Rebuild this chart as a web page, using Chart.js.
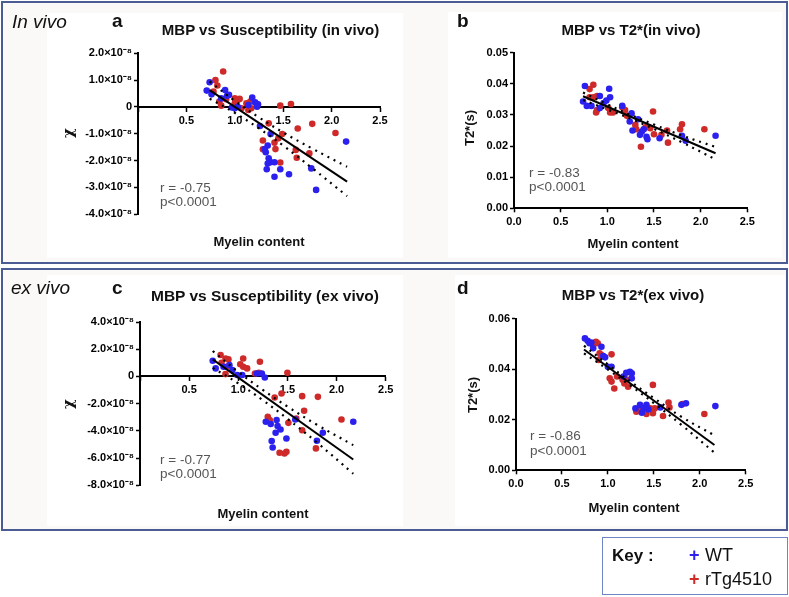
<!DOCTYPE html>
<html>
<head>
<meta charset="utf-8">
<script src="https://cdn.jsdelivr.net/npm/chart.js@4.4.1/dist/chart.umd.min.js"></script>
<style>
html, body { margin: 0; padding: 0; background: #fff; }
#fig { position: relative; width: 789px; height: 597px; overflow: hidden; font-family: "Liberation Sans", Arial, sans-serif; }
#fig canvas { position: absolute; left: 0; top: 0; }
.frame { position: absolute; box-sizing: border-box; border: 2px solid #4a5c93; background: #faf9f7; }
.sheet { position: absolute; background: #fff; }
.txt { position: absolute; white-space: nowrap; line-height: 1; color: #111; }
</style>
</head>
<body>
<div id="fig">
  <div class="frame" style="left:1px;top:1px;width:787px;height:263px"></div>
  <div class="frame" style="left:1px;top:268px;width:787px;height:263px"></div>
  <div class="sheet" style="left:47px;top:13px;width:356px;height:245px"></div>
  <div class="sheet" style="left:448px;top:12px;width:334px;height:246px"></div>
  <div class="sheet" style="left:47px;top:275px;width:356px;height:251px"></div>
  <div class="sheet" style="left:455px;top:275px;width:330px;height:251px"></div>
  <div class="frame" style="left:602px;top:537px;width:186px;height:58px;border:1.5px solid #6f84c2;background:#fff"></div>
</div>
<script>
// ---- data (susceptibility values in units of 1e-8) ----
// a: MBP vs susceptibility, in vivo
const aWtX = [0.74, 0.71, 0.76, 0.90, 0.92, 0.94, 0.86, 0.97, 1.00, 1.03, 1.18, 1.21, 1.24, 1.23, 1.14, 1.26, 1.37, 1.34, 1.32, 1.35, 1.37, 1.34, 1.33, 1.41, 1.47, 1.41, 1.56, 1.79, 1.84, 2.15, 1.31];
const aWtY = [0.92, 0.61, 0.47, 0.63, 0.42, 0.45, 0.32, -0.02, -0.05, 0.01, 0.35, 0.17, 0.10, 0.01, 0.07, -0.71, -1.01, -1.44, -1.69, -1.91, -2.06, -2.11, -2.32, -2.06, -2.32, -2.60, -2.51, -2.29, -3.09, -1.29, -1.57];
const aTgX = [0.88, 0.80, 0.82, 0.78, 0.84, 0.86, 0.91, 1.00, 1.03, 1.05, 1.00, 1.12, 1.16, 1.17, 1.14, 1.07, 1.47, 1.58, 1.35, 1.65, 1.80, 2.04, 1.49, 1.45, 1.41, 1.42, 1.29, 1.29, 1.47, 1.63, 1.64, 1.77];
const aTgY = [1.32, 1.00, 0.80, 0.57, 0.20, 0.05, 0.29, 0.32, 0.26, 0.30, 0.14, 0.14, 0.20, -0.05, -0.11, -0.05, 0.05, 0.11, -0.61, -0.80, -0.63, -0.97, -1.01, -1.17, -1.33, -1.57, -1.25, -1.58, -2.07, -1.60, -1.89, -1.73];
const aFitX = [0.74, 2.16];
const aFitY = [0.63, -2.78];
const aBandX = [0.74, 1.0, 1.25, 1.5, 1.8, 2.16];
const aUpper = [0.95, 0.23, -0.39, -0.95, -1.55, -2.23];
const aLower = [0.31, -0.22, -0.80, -1.44, -2.28, -3.32];

// b: MBP vs T2*, in vivo
const bWtX = [0.76, 0.74, 0.78, 0.83, 0.92, 1.02, 1.03, 0.99, 0.96, 0.92, 1.16, 1.26, 1.24, 1.33, 1.27, 1.37, 1.35, 1.42, 1.43, 1.39, 1.56, 1.80, 1.84, 2.16];
const bWtY = [0.0393, 0.0343, 0.0329, 0.0329, 0.0361, 0.0384, 0.0357, 0.0346, 0.0338, 0.0322, 0.0329, 0.0305, 0.0279, 0.0286, 0.0250, 0.0247, 0.0236, 0.0230, 0.0222, 0.0254, 0.0225, 0.0233, 0.0217, 0.0233];
const bTgX = [0.85, 0.81, 0.89, 0.85, 0.81, 0.88, 0.89, 1.03, 1.06, 1.01, 1.16, 1.19, 1.21, 1.49, 1.30, 1.31, 1.41, 1.46, 1.50, 1.36, 1.58, 1.65, 1.64, 1.78, 1.80, 2.04];
const bTgY = [0.0397, 0.0383, 0.0361, 0.0357, 0.0357, 0.0308, 0.0316, 0.0308, 0.0308, 0.0322, 0.0325, 0.0316, 0.0297, 0.0311, 0.0268, 0.0254, 0.0260, 0.0257, 0.0238, 0.0198, 0.0236, 0.0211, 0.0250, 0.0254, 0.0270, 0.0254];
const bFitX = [0.74, 2.16];
const bFitY = [0.0360, 0.0177];
const bBandX = [0.74, 1.0, 1.25, 1.5, 1.8, 2.16];
const bUpper = [0.0372, 0.0334, 0.0300, 0.0269, 0.0234, 0.0197];
const bLower = [0.0348, 0.0318, 0.0288, 0.0255, 0.0212, 0.0157];

// c: MBP vs susceptibility, ex vivo
const cWtX = [0.74, 0.77, 0.85, 0.91, 0.94, 0.99, 1.04, 1.19, 1.24, 1.27, 1.28, 1.33, 1.39, 1.40, 1.38, 1.43, 1.34, 1.35, 1.49, 1.58, 1.86, 1.80, 2.17];
const cWtY = [1.15, 0.59, 0.71, 0.83, 0.46, 0.10, 0.10, 0.22, 0.22, -0.08, -3.33, -3.50, -3.20, -3.65, -4.14, -3.90, -4.75, -5.22, -4.56, -3.16, -4.14, -4.73, -3.33];
const cTgX = [0.82, 0.87, 0.90, 0.83, 0.88, 0.87, 1.02, 1.05, 1.09, 1.05, 1.22, 1.17, 1.21, 1.50, 1.44, 1.37, 1.65, 1.81, 1.67, 1.30, 1.32, 1.51, 1.59, 1.65, 2.05, 1.79, 1.42, 1.47, 1.49];
const cTgY = [1.57, 1.32, 1.25, 1.00, 0.71, 0.17, 0.90, 0.71, 0.59, 1.32, 1.08, 0.22, 0.27, 0.27, -1.25, -1.55, -1.45, -1.50, -2.52, -2.96, -3.20, -3.41, -3.09, -3.95, -3.16, -5.29, -5.61, -5.66, -5.54];
const cFitX = [0.74, 2.17];
const cFitY = [1.25, -6.10];
const cBandX = [0.74, 1.0, 1.25, 1.5, 1.8, 2.17];
const cUpper = [1.87, 0.33, -0.99, -2.21, -3.55, -5.05];
const cLower = [0.63, -0.51, -1.75, -3.11, -4.85, -7.15];

// d: MBP vs T2*, ex vivo
const dWtX = [0.75, 0.78, 0.80, 0.82, 0.84, 0.93, 0.95, 0.97, 1.00, 1.04, 1.20, 1.24, 1.26, 1.26, 1.17, 1.30, 1.35, 1.39, 1.42, 1.37, 1.44, 1.57, 1.80, 1.85, 2.17];
const dWtY = [0.0522, 0.0513, 0.0503, 0.0506, 0.0483, 0.0489, 0.0452, 0.0447, 0.0410, 0.0410, 0.0386, 0.0390, 0.0384, 0.0364, 0.0371, 0.0245, 0.0259, 0.0245, 0.0259, 0.0228, 0.0241, 0.0249, 0.0259, 0.0265, 0.0254];
const dTgX = [0.87, 0.89, 0.84, 0.91, 0.93, 1.04, 0.90, 1.02, 1.04, 1.07, 1.10, 1.16, 1.20, 1.18, 1.22, 1.49, 1.31, 1.34, 1.37, 1.42, 1.49, 1.51, 1.60, 1.66, 1.67, 1.81, 2.05, 1.46];
const dTgY = [0.0509, 0.0503, 0.0496, 0.0463, 0.0456, 0.0459, 0.0437, 0.0364, 0.0351, 0.0324, 0.0371, 0.0358, 0.0360, 0.0344, 0.0331, 0.0338, 0.0232, 0.0245, 0.0241, 0.0223, 0.0226, 0.0245, 0.0215, 0.0268, 0.0249, 0.0262, 0.0223, 0.0245];
const dFitX = [0.74, 2.16];
const dFitY = [0.0478, 0.0100];
const dBandX = [0.74, 1.0, 1.25, 1.5, 1.8, 2.16];
const dUpper = [0.0493, 0.0419, 0.0350, 0.0286, 0.0212, 0.0138];
const dLower = [0.0463, 0.0399, 0.0334, 0.0266, 0.0180, 0.0070];

const xTicks = [0, 0.5, 1.0, 1.5, 2.0, 2.5];

const BLUE = '#2b20ee';
const RED = '#cf2a2a';
const tickFont = { family: '"Liberation Sans", Arial, sans-serif', size: 11, weight: 'bold' };
const fig = document.getElementById('fig');
const Y_W = 100;  // fixed room for y tick labels
const X_H = 30;   // fixed room for x tick labels

function pts(xs, ys) {
  return xs.map((x, i) => ({ x: x, y: ys[i] }));
}

function chiLabel(v) {
  return v === 0 ? '0' : v.toFixed(1) + '×10⁻⁸';
}

// area = plot rectangle in page pixels
function panel(area, xOpts, yOpts, d) {
  const cv = document.createElement('canvas');
  cv.width = 789; cv.height = 597;
  cv.style.width = '789px'; cv.style.height = '597px';
  fig.appendChild(cv);

  const bottomAxis = !xOpts.position;
  const gridCfg = { drawOnChartArea: false, drawTicks: true, tickLength: 4, color: '#000', tickWidth: 1.5 };
  const lineSet = (xs, ys, dashed) => ({
    data: pts(xs, ys), showLine: true, pointRadius: 0, borderColor: '#000',
    borderWidth: dashed ? 2.2 : 2, borderDash: dashed ? [2, 5] : [],
    tension: dashed ? 0.4 : 0, fill: false
  });
  const dotSet = (xs, ys, col) => ({
    data: pts(xs, ys), pointRadius: 3.3, pointBorderWidth: 0,
    pointBackgroundColor: col, borderColor: col, backgroundColor: col
  });

  new Chart(cv, {
    type: 'scatter',
    data: {
      datasets: [
        lineSet(d.fitX, d.fitY, false),
        lineSet(d.bandX, d.upper, true),
        lineSet(d.bandX, d.lower, true),
        dotSet(d.wtX, d.wtY, BLUE),
        dotSet(d.tgX, d.tgY, RED)
      ]
    },
    options: {
      responsive: false,
      animation: false,
      devicePixelRatio: 1,
      layout: { padding: {
        left: area.l - Y_W, top: area.t, right: 789 - area.r,
        bottom: 597 - area.b - (bottomAxis ? X_H : 0)
      } },
      plugins: { legend: { display: false }, tooltip: { enabled: false } },
      scales: {
        x: Object.assign({
          type: 'linear', min: 0, max: 2.5, position: 'bottom',
          border: { display: true, color: '#000', width: 2 },
          grid: gridCfg,
          afterBuildTicks: s => { s.ticks = xTicks.map(v => ({ value: v })); },
          afterFit: s => { s.height = X_H; },
          ticks: { color: '#000', font: tickFont, padding: 3, maxRotation: 0, autoSkip: false, callback: v => v.toFixed(1) }
        }, xOpts),
        y: Object.assign({
          type: 'linear', position: 'left',
          border: { display: true, color: '#000', width: 2 },
          grid: gridCfg,
          afterFit: s => { s.width = Y_W; }
        }, yOpts)
      }
    }
  });
}

// a
panel({ l: 138, r: 380, t: 53.3, b: 214.3 },
  { position: { y: 0 },
    ticks: { color: '#000', font: tickFont, padding: 3, maxRotation: 0, autoSkip: false, callback: v => v === 0 ? '' : v.toFixed(1) } },
  { min: -4, max: 2, ticks: { stepSize: 1, color: '#000', font: tickFont, padding: 2, callback: chiLabel } },
  { wtX: aWtX, wtY: aWtY, tgX: aTgX, tgY: aTgY, fitX: aFitX, fitY: aFitY, bandX: aBandX, upper: aUpper, lower: aLower });

// b
panel({ l: 514, r: 747.3, t: 52.7, b: 208.3 },
  {},
  { min: 0, max: 0.05, ticks: { stepSize: 0.01, color: '#000', font: tickFont, padding: 2, callback: v => v.toFixed(2) } },
  { wtX: bWtX, wtY: bWtY, tgX: bTgX, tgY: bTgY, fitX: bFitX, fitY: bFitY, bandX: bBandX, upper: bUpper, lower: bLower });

// c
panel({ l: 140, r: 385.7, t: 322, b: 485.3 },
  { position: { y: 0 },
    ticks: { color: '#000', font: tickFont, padding: 3, maxRotation: 0, autoSkip: false, callback: v => v === 0 ? '' : v.toFixed(1) } },
  { min: -8, max: 4, ticks: { stepSize: 2, color: '#000', font: tickFont, padding: 2, callback: chiLabel } },
  { wtX: cWtX, wtY: cWtY, tgX: cTgX, tgY: cTgY, fitX: cFitX, fitY: cFitY, bandX: cBandX, upper: cUpper, lower: cLower });

// d
panel({ l: 516, r: 745.7, t: 318.7, b: 470.3 },
  {},
  { min: 0, max: 0.06, ticks: { stepSize: 0.02, color: '#000', font: tickFont, padding: 2, callback: v => v.toFixed(2) } },
  { wtX: dWtX, wtY: dWtY, tgX: dTgX, tgY: dTgY, fitX: dFitX, fitY: dFitY, bandX: dBandX, upper: dUpper, lower: dLower });

// ---- text labels (x, baseline) ----
function put(txt, x, base, size, css, align) {
  const el = document.createElement('div');
  el.className = 'txt';
  el.textContent = txt;
  el.style.fontSize = size + 'px';
  el.style.left = x + 'px';
  el.style.top = (base - 0.847 * size) + 'px';
  if (align === 'center') el.style.transform = 'translateX(-50%)';
  if (css) el.style.cssText += css;
  fig.appendChild(el);
  return el;
}
function putV(txt, cx, cy, size, css) {
  const el = document.createElement('div');
  el.className = 'txt';
  el.textContent = txt;
  el.style.fontSize = size + 'px';
  el.style.left = cx + 'px';
  el.style.top = cy + 'px';
  el.style.transform = 'translate(-50%, -50%) rotate(-90deg)';
  if (css) el.style.cssText += css;
  fig.appendChild(el);
}

const B = 'font-weight:bold;';
const GREY = 'color:#555;';

put('In vivo', 12, 28, 19, 'font-style:italic;');
put('ex vivo', 11, 294, 19, 'font-style:italic;');
put('a', 112, 27, 19, B);
put('b', 457, 27, 19, B);
put('c', 112, 294, 19, B);
put('d', 457, 294, 19, B);

put('MBP vs Susceptibility (in vivo)', 270.5, 35, 15, B, 'center');
put('MBP vs T2*(in vivo)', 631, 35, 15, B, 'center');
put('MBP vs Susceptibility (ex vivo)', 265, 301, 15.5, B, 'center');
put('MBP vs T2*(ex vivo)', 633, 300, 15, B, 'center');

put('Myelin content', 259, 246, 13, B, 'center');
put('Myelin content', 633, 248, 13, B, 'center');
put('Myelin content', 263, 518, 13, B, 'center');
put('Myelin content', 634, 512, 13, B, 'center');

putV('χ', 68, 133, 15, B + 'font-family:"DejaVu Serif",serif;');
putV('T2*(s)', 469, 128, 13, B);
putV('χ', 68, 404, 15, B + 'font-family:"DejaVu Serif",serif;');
putV('T2*(s)', 472, 395, 13, B);

put('r = -0.75', 160, 192, 13.5, GREY);
put('p<0.0001', 160, 206.5, 13.5, GREY);
put('r = -0.83', 529, 177, 13.5, GREY);
put('p<0.0001', 529, 191.5, 13.5, GREY);
put('r = -0.77', 160, 464, 13.5, GREY);
put('p<0.0001', 160, 478.5, 13.5, GREY);
put('r = -0.86', 530, 440.5, 13.5, GREY);
put('p<0.0001', 530, 455, 13.5, GREY);

put('Key :', 612, 561, 17, B);
put('+', 689, 561, 18, B + 'color:' + BLUE + ';');
put('WT', 705, 561, 18, '');
put('+', 689, 585, 18, B + 'color:' + RED + ';');
put('rTg4510', 705, 585, 18, '');
</script>
</body>
</html>
